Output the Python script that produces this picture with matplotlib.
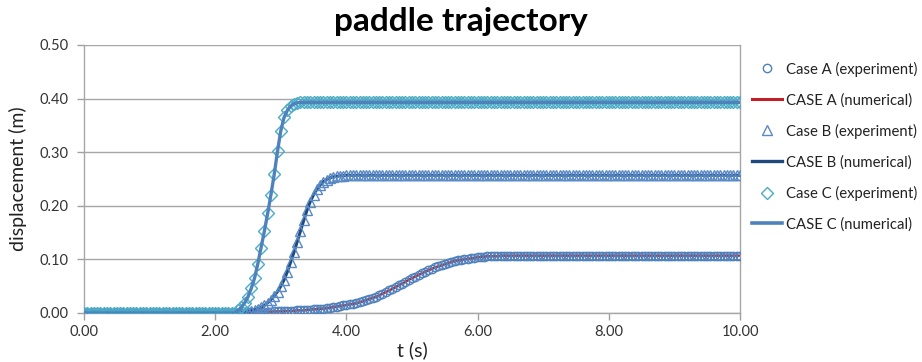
import numpy as np
import matplotlib
matplotlib.use("Agg")
import matplotlib.pyplot as plt
from matplotlib.lines import Line2D

plt.rcParams['font.family'] = ['Lato', 'DejaVu Sans']

# time axis (s), samples every 0.05 s
t = np.round(np.arange(0, 201) * 0.05, 2)

# Case A displacement (m)
case_a_rise = [0.001, 0.001, 0.001, 0.001, 0.002, 0.002, 0.002, 0.002, 0.003, 0.003,
               0.003, 0.003, 0.004, 0.004, 0.004, 0.005, 0.005, 0.005, 0.006, 0.006,
               0.007, 0.007, 0.008, 0.008, 0.009, 0.010, 0.011, 0.012, 0.013, 0.014,
               0.015, 0.016, 0.017, 0.018, 0.020, 0.022, 0.024, 0.026, 0.028, 0.030,
               0.033, 0.036, 0.039, 0.042, 0.045, 0.048, 0.052, 0.055, 0.058, 0.062,
               0.065, 0.068, 0.071, 0.074, 0.077, 0.080, 0.082, 0.085, 0.087, 0.089,
               0.091, 0.093, 0.095, 0.097, 0.098, 0.099, 0.100, 0.101, 0.102, 0.103,
               0.104, 0.105, 0.105, 0.106, 0.106, 0.106, 0.106, 0.107, 0.107]
case_a = [0.0] * 50 + case_a_rise
case_a = case_a + [0.107] * (201 - len(case_a))

# Case B displacement (m)
case_b_rise = [0.001, 0.002, 0.004, 0.006, 0.008, 0.011, 0.014, 0.019, 0.025, 0.032,
               0.040, 0.050, 0.062, 0.077, 0.095, 0.113, 0.133, 0.153, 0.173, 0.192,
               0.208, 0.221, 0.231, 0.239, 0.245, 0.249, 0.252, 0.254, 0.255, 0.256,
               0.256, 0.257]
case_b = [0.0] * 49 + case_b_rise
case_b = case_b + [0.257] * (201 - len(case_b))

# Case C displacement (m)
case_c_rise = [0.005, 0.011, 0.019, 0.030, 0.046, 0.065, 0.092, 0.122, 0.153, 0.186,
               0.221, 0.259, 0.302, 0.340, 0.365, 0.378, 0.386, 0.390, 0.392, 0.393]
case_c = [0.0] * 47 + case_c_rise
case_c = case_c + [0.393] * (201 - len(case_c))

xticks = [0, 2, 4, 6, 8, 10]
yticks = [0.0, 0.1, 0.2, 0.3, 0.4, 0.5]

W, H = 922, 362
fig = plt.figure(figsize=(W / 100, H / 100), dpi=100)
ax = fig.add_axes([84 / W, 1 - 313 / H, (740 - 84) / W, (313 - 45) / H])

col_a_exp = '#4F81BD'
col_a_num = '#C0202A'
col_b_exp = '#5A8AC6'
col_b_num = '#1F497D'
col_c_exp = '#4BACC6'
col_c_num = '#4F81BD'

ms_o, ms_t, ms_d = 6.0, 6.5, 6.5
ax.plot(t, case_a, color=col_a_num, lw=1.8, zorder=2)
ax.plot(t, case_a, ls='none', marker='o', ms=ms_o, mfc='none', mec=col_a_exp, mew=1.0, zorder=3)
ax.plot(t, case_b, color=col_b_num, lw=2.2, zorder=4)
ax.plot(t, case_b, ls='none', marker='^', ms=ms_t, mfc='none', mec=col_b_exp, mew=1.0, zorder=5)
ax.plot(t, case_c, ls='none', marker='D', ms=ms_d, mfc='none', mec=col_c_exp, mew=1.0, zorder=6)
ax.plot(t, case_c, color=col_c_num, lw=2.4, zorder=7)

ax.set_xlim(0, 10)
ax.set_ylim(0, 0.5)
ax.set_xticks(xticks)
ax.set_yticks(yticks)
ax.set_xticklabels([f"{v:.2f}" for v in xticks])
ax.set_yticklabels([f"{v:.2f}" for v in yticks])
ax.tick_params(axis='both', colors='#a0a0a0', labelcolor='#333333', length=5, width=1)
ax.tick_params(axis='x', labelsize=10.5, pad=4)
ax.tick_params(axis='y', labelsize=10.5, pad=6)
ax.yaxis.grid(True, color='#a6a6a6', lw=1)
ax.set_axisbelow(True)
for s in ['left', 'bottom', 'right']:
    ax.spines[s].set_color('#a6a6a6')
    ax.spines[s].set_linewidth(1)
ax.spines['top'].set_visible(False)

fig.text(461 / W, 1 - 22 / H, 'paddle trajectory', ha='center', va='center',
         fontsize=24, fontweight='bold', color='black')
fig.text(18 / W, 1 - 179 / H, 'displacement (m)', ha='center', va='center',
         rotation=90, fontsize=14, color='#222222')
fig.text(412 / W, 1 - 350 / H, 't (s)', ha='center', va='center',
         fontsize=14, color='#222222')

handles = [
    Line2D([], [], ls='none', marker='o', ms=ms_o, mfc='none', mec=col_a_exp, mew=1.0),
    Line2D([], [], color=col_a_num, lw=2.2),
    Line2D([], [], ls='none', marker='^', ms=ms_t, mfc='none', mec=col_b_exp, mew=1.0),
    Line2D([], [], color=col_b_num, lw=2.4),
    Line2D([], [], ls='none', marker='D', ms=ms_d - 0.5, mfc='none', mec=col_c_exp, mew=1.0),
    Line2D([], [], color=col_c_num, lw=2.6),
]
labels = ['Case A (experiment)', 'CASE A (numerical)', 'Case B (experiment)',
          'CASE B (numerical)', 'Case C (experiment)', 'CASE C (numerical)']
fig.legend(handles, labels, loc='upper left', bbox_to_anchor=(752 / W, 1 - 61.5 / H),
           frameon=False, fontsize=10.7, handlelength=2.0, handletextpad=0.27,
           labelspacing=1.1, borderpad=0, borderaxespad=0, labelcolor='#222222')

fig.savefig('out.png', dpi=100)
